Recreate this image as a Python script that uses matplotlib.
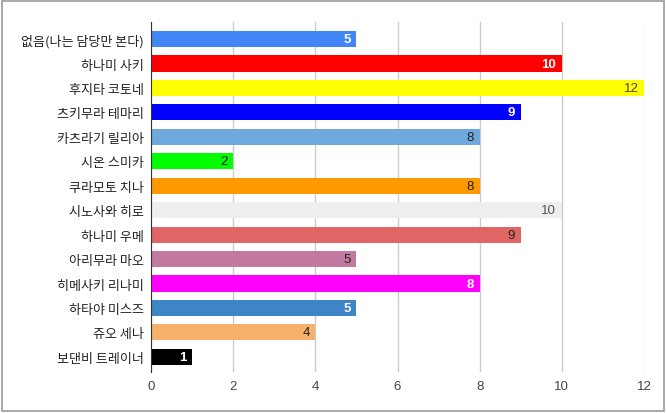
import matplotlib.pyplot as plt
from matplotlib.patches import Rectangle

# ----------------------------
# data
# ----------------------------
names = ["없음(나는 담당만 본다)", "하나미 사키", "후지타 코토네", "츠키무라 테마리",
         "카츠라기 릴리아", "시온 스미카", "쿠라모토 치나", "시노사와 히로",
         "하나미 우메", "아리무라 마오", "히메사키 리나미", "하타야 미스즈",
         "쥬오 세나", "보댄비 트레이너"]
votes = [5, 10, 12, 9, 8, 2, 8, 10, 9, 5, 8, 5, 4, 1]
colors = ["#4285f4", "#ff0000", "#ffff00", "#0000ff", "#6fa8dc", "#00ff00", "#ff9900",
          "#eeeeee", "#e06666", "#c27ba0", "#ff00ff", "#3d85c6", "#f6b26b", "#000000"]
label_colors = ["white", "white", "#444444", "white", "#222222", "#111111", "#222222",
                "#555555", "#222222", "#222222", "white", "white", "#222222", "white"]
label_bold = [True, True, False, True, False, False, False,
              False, False, False, True, True, False, True]
xticks = [0, 2, 4, 6, 8, 10, 12]

kr = ["Noto Sans CJK KR", "DejaVu Sans"]
num = ["Liberation Sans", "DejaVu Sans"]

fig = plt.figure(figsize=(6.66, 4.14), dpi=100)
ax = fig.add_axes([151 / 666, 1 - 373 / 414, (644 - 151) / 666, 350 / 414])

y = list(range(len(names)))
ax.barh(y, votes, height=0.66, color=colors, zorder=3)

for i, v in enumerate(votes):
    ax.annotate(str(v), (v, i), xytext=(-4, 0), textcoords="offset points",
                ha="right", va="center", color=label_colors[i],
                fontweight="bold" if label_bold[i] else "normal",
                fontsize=9.5, family=num, zorder=4)

ax.set_xlim(0, 12)
ax.set_ylim(len(names) - 1 + 0.62, -0.7)
ax.set_xticks(xticks)
ax.set_xticklabels([str(t) for t in xticks], family=num, fontsize=9.5, color="#444444")
ax.set_yticks(y)
ax.set_yticklabels(names, family=kr, fontsize=9.4, color="#222222")
ax.tick_params(length=0, pad=5)
ax.tick_params(axis="x", pad=6)

ax.grid(axis="x", color="#cccccc", linewidth=1, zorder=0)
for s in ["top", "right", "bottom"]:
    ax.spines[s].set_visible(False)
ax.spines["left"].set_color("#333333")
ax.spines["left"].set_zorder(5)

# figure border
fig.patches.append(Rectangle((2 / 666, 2 / 414), 662 / 666, 410 / 414,
                             transform=fig.transFigure, fill=False,
                             edgecolor="#999999", linewidth=1.2))

fig.savefig("out.png", dpi=100)
